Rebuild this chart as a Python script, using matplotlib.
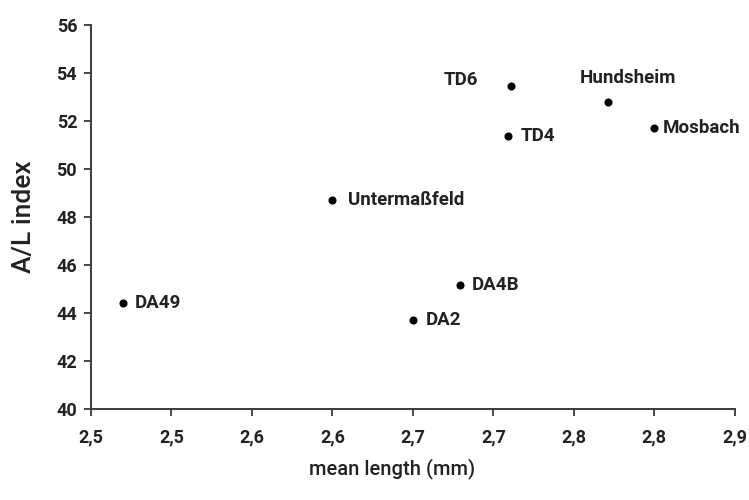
import matplotlib
matplotlib.use("Agg")
import matplotlib.pyplot as plt

sites = ["DA49", "Untermaßfeld", "TD6", "TD4", "Hundsheim", "Mosbach", "DA4B", "DA2"]
mean_length = [2.52, 2.65, 2.761, 2.759, 2.821, 2.85, 2.729, 2.70]
al_index = [44.42, 48.7, 53.46, 51.38, 52.79, 51.71, 45.17, 43.71]

x_ticks = [2.50, 2.55, 2.60, 2.65, 2.70, 2.75, 2.80, 2.85, 2.90]
x_tick_labels = ["2,5", "2,5", "2,6", "2,6", "2,7", "2,7", "2,8", "2,8", "2,9"]
y_ticks = [40, 42, 44, 46, 48, 50, 52, 54, 56]

# label offsets in points (style only)
offsets = {
    "DA49": (8, 0, "left", "center"),
    "Untermaßfeld": (11, 0, "left", "center"),
    "TD6": (-24, 4, "right", "center"),
    "TD4": (9.5, 0, "left", "center"),
    "Hundsheim": (-20, 17.5, "left", "center"),
    "Mosbach": (6, 0, "left", "center"),
    "DA4B": (9, 0, "left", "center"),
    "DA2": (9, 0, "left", "center"),
}

plt.rcParams['font.family'] = ['Roboto', 'DejaVu Sans']

fig = plt.figure(figsize=(7.49, 5.0), dpi=100)
ax = fig.add_axes([0.1215, 0.182, 0.8595, 0.768])

ax.scatter(mean_length, al_index, s=34, color="black", zorder=3, linewidths=0)
for name, x, y in zip(sites, mean_length, al_index):
    dx, dy, ha, va = offsets[name]
    ax.annotate(name, (x, y), xytext=(dx, dy), textcoords="offset points",
                ha=ha, va=va, fontsize=13.5, fontweight="bold", color="#222222")

ax.set_xlim(2.50, 2.90)
ax.set_ylim(40, 56)
ax.set_xticks(x_ticks)
ax.set_xticklabels(x_tick_labels)
ax.set_yticks(y_ticks)

for side in ["top", "right"]:
    ax.spines[side].set_visible(False)
for side in ["left", "bottom"]:
    ax.spines[side].set_color("#3a3a3a")
    ax.spines[side].set_linewidth(1.4)

ax.tick_params(axis="both", direction="out", length=5, width=1.3, color="#3a3a3a",
               labelsize=13, labelcolor="#222222")
ax.tick_params(axis="x", pad=9)
ax.tick_params(axis="y", pad=5)
for lbl in ax.get_xticklabels() + ax.get_yticklabels():
    lbl.set_fontweight("bold")

ax.set_xlabel("mean length (mm)", fontsize=14.5, fontweight="medium", color="#222222")
ax.xaxis.set_label_coords(0.467, -0.128)
ax.set_ylabel("A/L index", fontsize=19, fontweight="medium", color="#222222")
ax.yaxis.set_label_coords(-0.085, 0.5)

fig.savefig("out.png", dpi=100)
